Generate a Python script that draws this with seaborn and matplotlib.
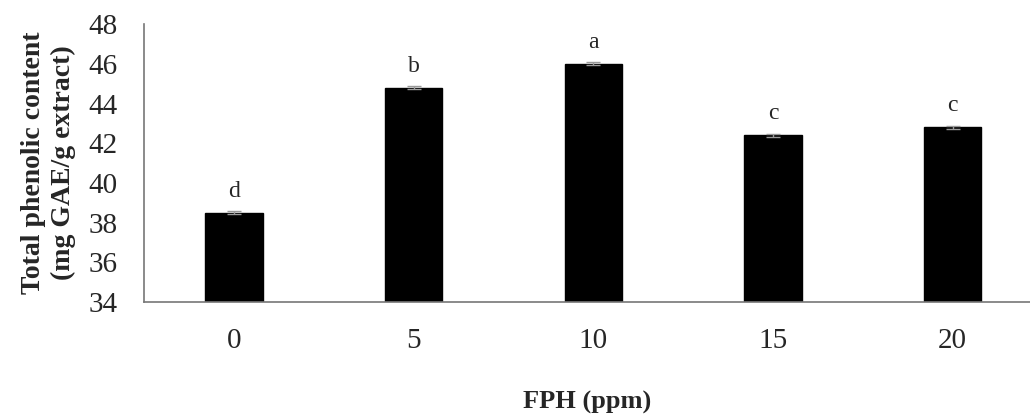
import numpy as np
import pandas as pd
import seaborn as sns
import matplotlib
matplotlib.use("Agg")
import matplotlib.pyplot as plt

# data
fph = ["0", "5", "10", "15", "20"]
tpc = [38.5, 44.8, 46.0, 42.4, 42.8]
tpc_err = [0.08, 0.08, 0.07, 0.07, 0.07]
letters = ["d", "b", "a", "c", "c"]

sns.set_style("white")
plt.rcParams['font.family'] = ['Liberation Serif', 'DejaVu Serif']

df = pd.DataFrame({"fph": fph, "tpc": tpc})

fig = plt.figure(figsize=(10.3, 4.16), dpi=100)
ax = fig.add_axes([0.14, 0.274, 0.86, 0.668])
sns.barplot(data=df, x="fph", y="tpc", color="black", width=0.32,
            errorbar=None, ax=ax)
for p in ax.patches:
    p.set_facecolor("black")
    p.set_edgecolor("black")
xs = np.arange(len(fph))
ax.errorbar(xs, tpc, yerr=tpc_err, fmt="none", ecolor="#999999",
            elinewidth=1, capsize=5, capthick=1)
for x, v, lab in zip(xs, tpc, letters):
    ax.text(x, v + 0.55, lab, ha="center", va="bottom", fontsize=17)

ax.set_ylim(34, 48)
ax.set_yticks(np.arange(34, 49, 2))
ax.set_xlim(-0.5, 4.43)
ax.tick_params(axis="both", length=0, labelsize=21)
ax.tick_params(axis="x", pad=19)
ax.tick_params(axis="y", pad=19)
for s in ["top", "right"]:
    ax.spines[s].set_visible(False)
for s in ["left", "bottom"]:
    ax.spines[s].set_color("#777777")
    ax.spines[s].set_linewidth(1.2)

ax.set_ylabel("Total phenolic content\n(mg GAE/g extract)", fontsize=20,
              fontweight="bold", linespacing=1.25, labelpad=9)
ax.set_xlabel("FPH (ppm)", fontsize=19, fontweight="bold", labelpad=26)

fig.savefig("out.png", dpi=100)
